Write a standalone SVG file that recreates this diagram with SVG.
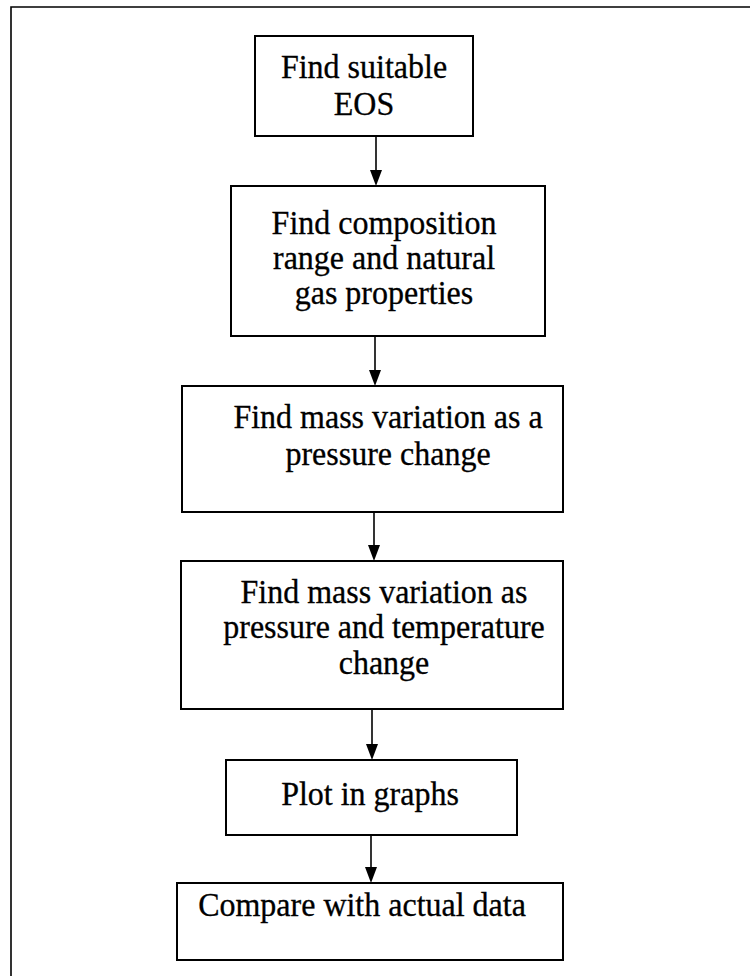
<svg xmlns="http://www.w3.org/2000/svg" width="750" height="976" viewBox="0 0 750 976">
<defs>
<style>
.box{fill:#fff;stroke:#000;stroke-width:2}
.t{font-size:32px;fill:#000;stroke:#000;stroke-width:0.3;text-anchor:middle}
.c{stroke:#000;stroke-width:1.6;fill:none}
.frame{stroke:#000;stroke-width:1.6;fill:none}
</style>
</defs>
<rect width="750" height="976" fill="#fff"/>
<path class="frame" d="M11,976 L11,7 L750,7"/>
<g id="connectors">
<line class="c" x1="376" y1="136" x2="376" y2="172"/>
<path d="M370,170 L382,170 L376,186 Z"/>
<line class="c" x1="375" y1="336" x2="375" y2="372"/>
<path d="M369,370 L381,370 L375,386 Z"/>
<line class="c" x1="374" y1="512" x2="374" y2="547"/>
<path d="M368,545 L380,545 L374,561 Z"/>
<line class="c" x1="372" y1="709" x2="372" y2="746"/>
<path d="M366,744 L378,744 L372,760 Z"/>
<line class="c" x1="371" y1="835" x2="371" y2="869"/>
<path d="M365,867 L377,867 L371,883 Z"/>
</g>
<g font-family="Liberation Serif, Times New Roman, DejaVu Serif, serif">
<g id="n1">
<rect class="box" x="255" y="36" width="218" height="100"/>
<text class="t" transform="translate(364,78) scale(1,1.05)">Find suitable</text>
<text class="t" transform="translate(364,115) scale(1,1.05)">EOS</text>
</g>
<g id="n2">
<rect class="box" x="231" y="186" width="314" height="150"/>
<text class="t" transform="translate(384,234) scale(1,1.05)">Find composition</text>
<text class="t" transform="translate(384,269) scale(1,1.05)">range and natural</text>
<text class="t" transform="translate(384,304) scale(1,1.05)">gas properties</text>
</g>
<g id="n3">
<rect class="box" x="182" y="386" width="381" height="126"/>
<text class="t" transform="translate(388,428) scale(1,1.05)">Find mass variation as a</text>
<text class="t" transform="translate(388,465) scale(1,1.05)">pressure change</text>
</g>
<g id="n4">
<rect class="box" x="181" y="561" width="382" height="148"/>
<text class="t" transform="translate(384,603) scale(1,1.05)">Find mass variation as</text>
<text class="t" transform="translate(384,638) scale(1,1.05)">pressure and temperature</text>
<text class="t" transform="translate(384,674) scale(1,1.05)">change</text>
</g>
<g id="n5">
<rect class="box" x="226" y="760" width="291" height="75"/>
<text class="t" transform="translate(370,805) scale(1,1.05)">Plot in graphs</text>
</g>
<g id="n6">
<rect class="box" x="177" y="883" width="386" height="77"/>
<text class="t" transform="translate(362,916) scale(1,1.05)">Compare with actual data</text>
</g>
</g>
</svg>
